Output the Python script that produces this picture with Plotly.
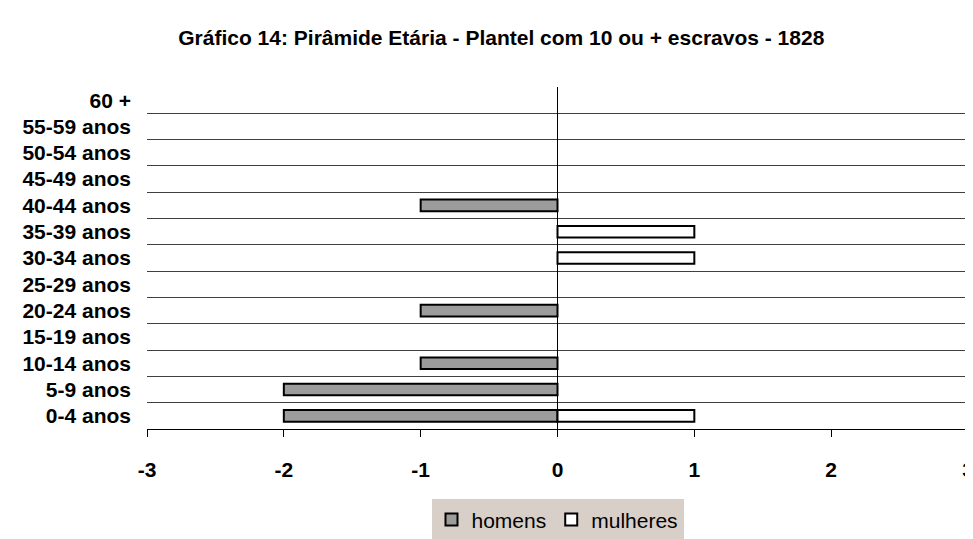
import plotly.graph_objects as go

categories = ["0-4 anos", "5-9 anos", "10-14 anos", "15-19 anos", "20-24 anos",
              "25-29 anos", "30-34 anos", "35-39 anos", "40-44 anos", "45-49 anos",
              "50-54 anos", "55-59 anos", "60 +"]
homens = [-2, -2, -1, 0, -1, 0, 0, 0, -1, 0, 0, 0, 0]
mulheres = [1, 0, 0, 0, 0, 0, 1, 1, 0, 0, 0, 0, 0]
x_ticks = [-3, -2, -1, 0, 1, 2, 3]

FONT = "Liberation Sans, Arial, sans-serif"


def nz(values):
    # empty cells are not drawn (as in the original spreadsheet chart)
    return [v if v != 0 else None for v in values]


fig = go.Figure()
fig.add_trace(go.Bar(
    y=categories, x=nz(homens), name="homens", orientation="h",
    marker=dict(color="#9c9c9c", line=dict(color="black", width=2)),
))
fig.add_trace(go.Bar(
    y=categories, x=nz(mulheres), name="mulheres", orientation="h",
    marker=dict(color="white", line=dict(color="black", width=2)),
))

fig.update_layout(
    width=973, height=539,
    paper_bgcolor="white", plot_bgcolor="white",
    barmode="overlay", bargap=0.56,
    margin=dict(l=139, r=7, t=79, b=101),
    title=dict(
        text="Gráfico 14: Pirâmide Etária - Plantel com 10 ou + escravos - 1828",
        x=0.507, xref="container", xanchor="center", y=0.945, yanchor="middle",
        font=dict(family=FONT, size=21, color="black", weight="bold"),
    ),
    showlegend=True,
    legend=dict(
        orientation="h", x=0.5, xanchor="center", xref="paper",
        y=-0.206, yanchor="top",
        bgcolor="#d8cfc8", borderwidth=0,
        font=dict(family=FONT, size=21, color="black"),
        itemwidth=30, tracegroupgap=0,
    ),
    font=dict(family=FONT, color="black"),
)

fig.update_xaxes(
    range=[-3, 3], tickvals=x_ticks, ticktext=[str(v) for v in x_ticks],
    showgrid=False, zeroline=True, zerolinecolor="black", zerolinewidth=1,
    showline=True, linecolor="black", linewidth=1,
    ticks="outside", ticklen=7, tickcolor="black", tickwidth=1,
    tickfont=dict(family=FONT, size=21, color="black", weight="bold"),
    ticklabelstandoff=15,
)
fig.update_yaxes(
    type="category", categoryorder="array", categoryarray=categories,
    tickson="boundaries", showgrid=True, gridcolor="#404040", gridwidth=1,
    ticks="", showline=False, zeroline=False,
    tickfont=dict(family=FONT, size=21, color="black", weight="bold"),
    ticklabelstandoff=15,
)

fig.write_html("out.html")
